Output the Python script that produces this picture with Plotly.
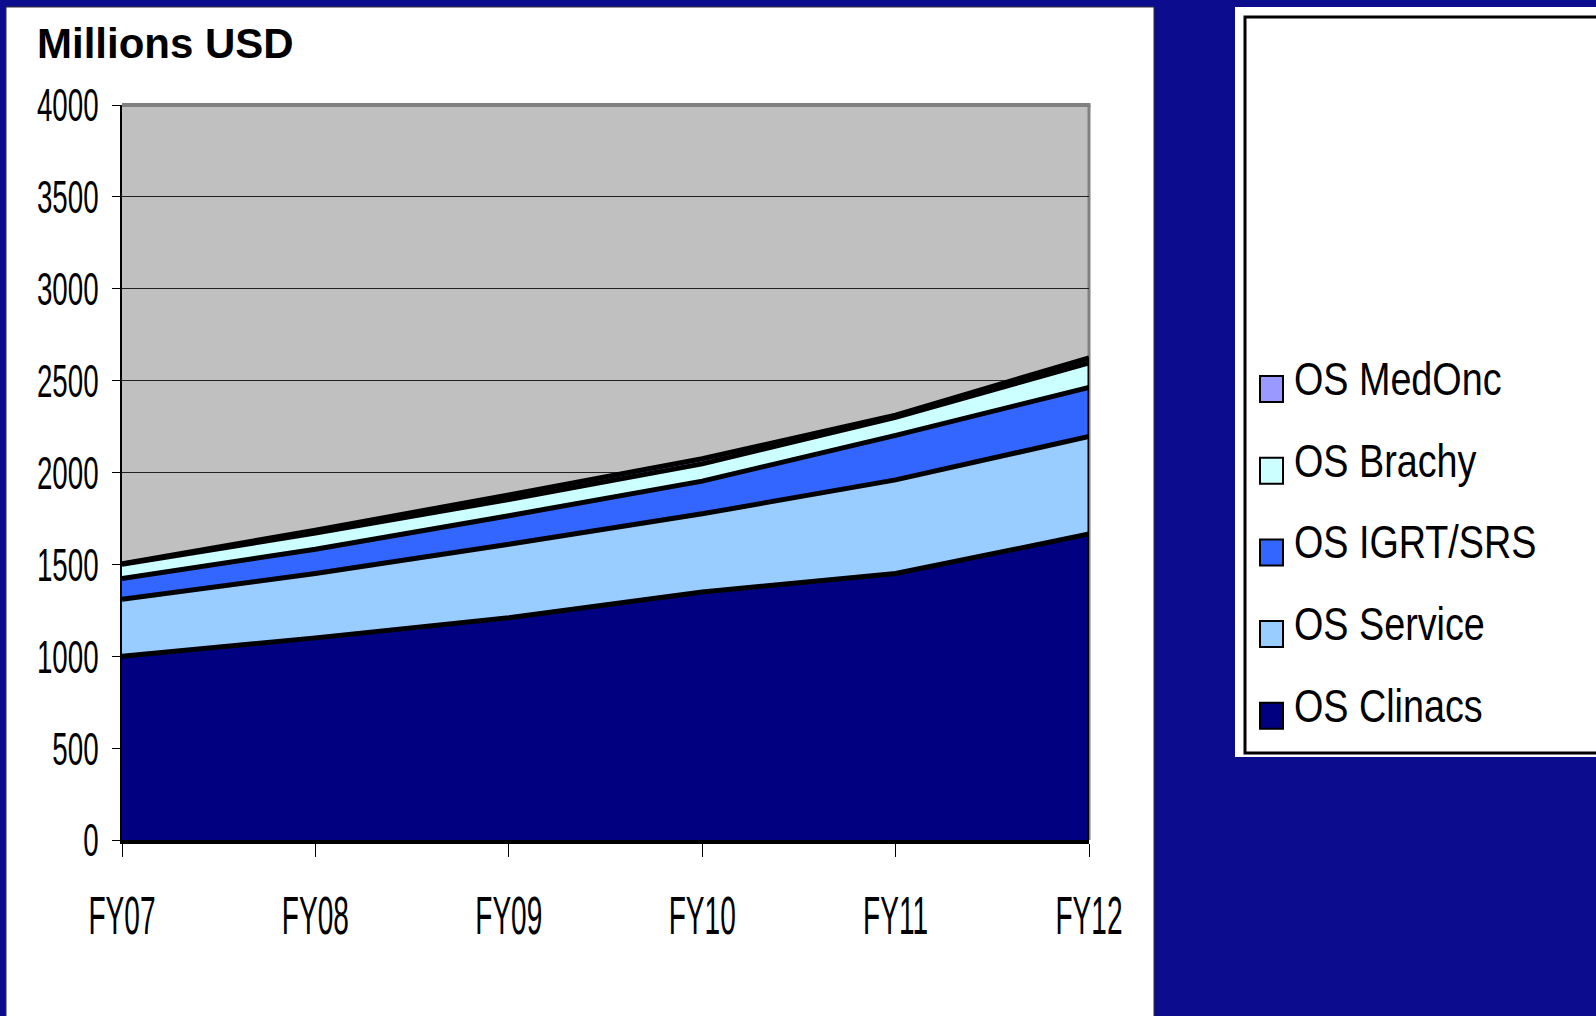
import plotly.graph_objects as go

# Revenue by product line, millions USD (stacked)
years = ["FY07", "FY08", "FY09", "FY10", "FY11", "FY12"]
clinacs = [1000, 1100, 1210, 1350, 1450, 1665]
service = [310, 350, 400, 425, 510, 531]
igrt_srs = [113, 132, 155, 178, 242, 267]
brachy = [77, 89, 88, 94, 98, 134]
medonc = [3, 15, 25, 28, 12, 27]

series_names = ["OS Clinacs", "OS Service", "OS IGRT/SRS", "OS Brachy", "OS MedOnc"]
series_values = [clinacs, service, igrt_srs, brachy, medonc]
series_colors = ["#000080", "#99CCFF", "#3366FF", "#CCFFFF", "#9999FF"]

y_ticks = [0, 500, 1000, 1500, 2000, 2500, 3000, 3500, 4000]
y_max = 4000

W, H = 1596, 1016
PLOT_L, PLOT_R, PLOT_T, PLOT_B = 122, 1089, 105, 840

NAVY = "#0C0C8E"
SANS = "Liberation Sans, Arial, sans-serif"


def fx(px):
    return px / W


def fy(py):
    return 1 - py / H


fig = go.Figure()

for name, vals, col in zip(series_names, series_values, series_colors):
    fig.add_trace(go.Scatter(
        x=years, y=vals, name=name, mode="lines",
        stackgroup="one", fillcolor=col,
        line=dict(color="black", width=5, shape="linear"),
        hoverinfo="x+y+name", showlegend=False,
    ))

# closing edge of the stacked areas on the right side
totals = [sum(v) for v in zip(*series_values)]
fig.add_trace(go.Scatter(
    x=[years[-1], years[-1]], y=[0, totals[-1]], mode="lines",
    line=dict(color="black", width=3), hoverinfo="skip", showlegend=False,
))

shapes = [
    # white chart panel
    dict(type="rect", xref="paper", yref="paper", layer="below",
         x0=fx(6), x1=fx(1154), y0=fy(1040), y1=fy(7),
         fillcolor="white", line=dict(width=1, color="#303030")),
    # legend panel
    dict(type="rect", xref="paper", yref="paper", layer="below",
         x0=fx(1235), x1=fx(1640), y0=fy(757), y1=fy(7),
         fillcolor="white", line=dict(width=0)),
    dict(type="rect", xref="paper", yref="paper", layer="below",
         x0=fx(1245), x1=fx(1650), y0=fy(753), y1=fy(17),
         fillcolor="rgba(0,0,0,0)", line=dict(width=3, color="black")),
    # plot area background and its grey frame
    dict(type="rect", xref="x domain", yref="y domain", layer="below",
         x0=0, x1=1, y0=0, y1=1, fillcolor="#C0C0C0", line=dict(width=0)),
    dict(type="line", xref="x domain", yref="y domain", layer="below",
         x0=1, x1=1, y0=0, y1=1, line=dict(width=3, color="#808080")),
    dict(type="line", xref="x domain", yref="y domain", layer="above",
         x0=0, x1=1.0015, y0=1, y1=1, line=dict(width=4, color="#808080")),
]

annotations = [
    dict(text="<b>Millions USD</b>", xref="paper", yref="paper",
         x=fx(35), y=fy(43), xanchor="left", yanchor="middle", showarrow=False,
         font=dict(family=SANS, size=42, color="black")),
]

# legend entries, top to bottom
legend_order = list(range(len(series_names)))[::-1]
for i, k in enumerate(legend_order):
    cy = 389 + 81.7 * i
    shapes.append(dict(type="rect", xref="paper", yref="paper", layer="above",
                       x0=fx(1260), x1=fx(1283), y0=fy(cy + 13), y1=fy(cy - 13),
                       fillcolor=series_colors[k], line=dict(width=2, color="black")))
    annotations.append(dict(text=series_names[k], xref="paper", yref="paper",
                            x=fx(1292), y=fy(cy - 10), xanchor="left", yanchor="middle",
                            align="left", showarrow=False, name="legend-label",
                            font=dict(family=SANS, size=46, color="black")))

fig.update_layout(
    width=W, height=H,
    margin=dict(l=0, r=0, t=0, b=0, pad=0),
    paper_bgcolor=NAVY, plot_bgcolor="rgba(0,0,0,0)",
    shapes=shapes, annotations=annotations,
    showlegend=False,
    xaxis=dict(type="category", range=[0, len(years) - 1],
               domain=[PLOT_L / W, PLOT_R / W], automargin=False,
               showgrid=False, zeroline=False,
               showline=True, linecolor="black", linewidth=4,
               ticks="outside", ticklen=13, tickwidth=1, tickcolor="black",
               ticklabelstandoff=12,
               tickfont=dict(family=SANS, size=54, color="black")),
    yaxis=dict(range=[0, y_max], tickvals=y_ticks,
               domain=[1 - PLOT_B / H, 1 - PLOT_T / H], automargin=False,
               showgrid=True, gridcolor="#202020", gridwidth=1, zeroline=False,
               showline=True, linecolor="black", linewidth=2,
               ticks="outside", ticklen=8, tickwidth=1, tickcolor="black",
               ticklabelstandoff=4,
               tickfont=dict(family=SANS, size=47, color="black")),
)

# the chart's lettering is a compressed grotesque: squeeze glyphs horizontally
squeeze_js = """
var gd = document.getElementById('{plot_id}');
function squeezeText(t, f) {
  var w = t.getComputedTextLength();
  t.setAttribute('lengthAdjust', 'spacingAndGlyphs');
  t.setAttribute('textLength', (w * f).toFixed(1));
}
gd.querySelectorAll('.xtick text').forEach(function (t) { squeezeText(t, 0.52); });
gd.querySelectorAll('.ytick text').forEach(function (t) { squeezeText(t, 0.59); });
gd.querySelectorAll('g.annotation').forEach(function (g, i) {
  if (i === 0) { return; }
  var t = g.querySelector('text.annotation-text');
  var bg = g.querySelector('rect.bg');
  if (t) { squeezeText(t, 0.82); }
  if (bg) {
    var bw = parseFloat(bg.getAttribute('width'));
    if (!isNaN(bw)) { bg.setAttribute('width', (bw * 0.82).toFixed(1)); }
  }
});
"""

fig.write_html("out.html", post_script=squeeze_js)
